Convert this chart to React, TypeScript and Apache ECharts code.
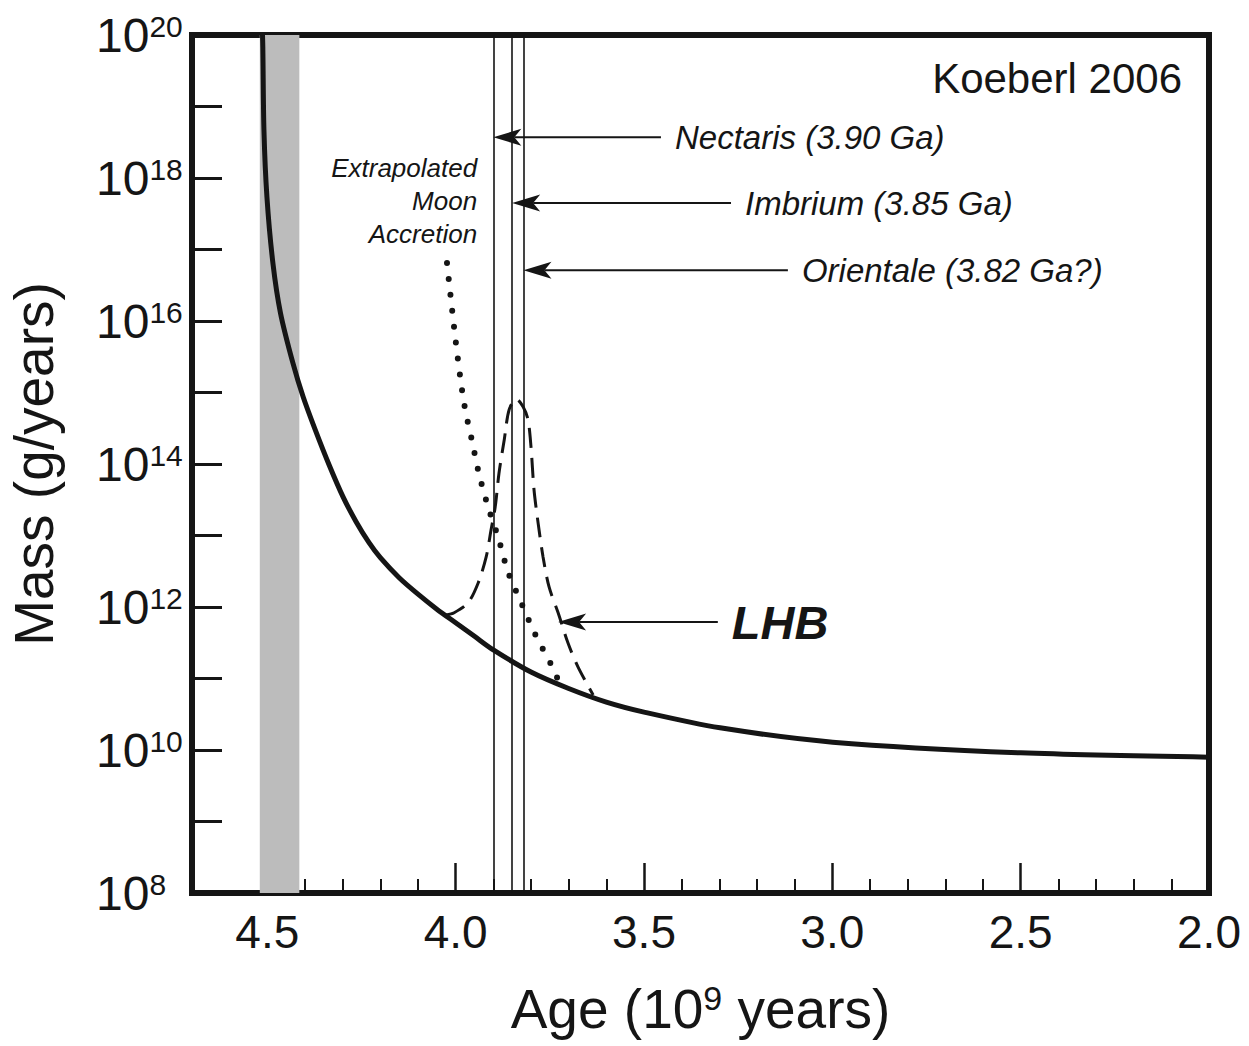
import React, { useEffect, useRef } from "react";
import * as echarts from "echarts";

// Age axis (Ga) ticks and labels
const xLabelAges = [2.0, 2.5, 3.0, 3.5, 4.0, 4.5];
const majorTickAges = [2.5, 3.0, 3.5, 4.0, 4.5];
const minorTickAges = [
  2.1, 2.2, 2.3, 2.4, 2.6, 2.7, 2.8, 2.9, 3.1, 3.2, 3.3, 3.4,
  3.6, 3.7, 3.8, 3.9, 4.1, 4.2, 4.3, 4.4,
];
// Mass axis: log10 of mass flux (g/yr); labelled every second decade
const massExponentLabels = [8, 10, 12, 14, 16, 18, 20];

// Background accretion flux (log10 g/yr)
const fluxAges = [
  4.514, 4.512, 4.509, 4.501, 4.485, 4.465, 4.432, 4.405, 4.373, 4.337, 4.299,
  4.264, 4.23, 4.2, 4.15, 4.1, 4.05, 4.0, 3.95, 3.9, 3.8, 3.7, 3.6, 3.5, 3.298,
  2.999, 2.5, 2.0,
];
const fluxLogMass = [
  20.2, 19.83, 18.67, 17.73, 16.8, 16.11, 15.41, 14.94, 14.48, 14.0, 13.54,
  13.19, 12.9, 12.69, 12.41, 12.18, 11.97, 11.78, 11.59, 11.4, 11.09, 10.86, 10.67,
  10.53, 10.31, 10.11, 9.96, 9.9,
];

// Extrapolated Moon accretion
const moonAges = [4.023, 4.004, 3.988, 3.975, 3.956, 3.938, 3.914, 3.887, 3.861, 3.826, 3.789, 3.747, 3.728];
const moonLogMass = [16.81, 15.9, 15.22, 14.77, 14.31, 13.86, 13.4, 12.97, 12.49, 12.06, 11.62, 11.2, 10.98];

// Late Heavy Bombardment spike
const lhbAges = [
  4.025, 4.004, 3.967, 3.94, 3.919, 3.906, 3.895, 3.885, 3.871, 3.858, 3.839,
  3.821, 3.808, 3.8, 3.792, 3.781, 3.768, 3.752, 3.728, 3.702, 3.675, 3.635,
];
const lhbLogMass = [
  11.89, 11.92, 12.06, 12.34, 12.7, 13.08, 13.4, 13.87, 14.34, 14.76, 14.91,
  14.8, 14.62, 14.24, 13.64, 13.17, 12.7, 12.28, 11.92, 11.5, 11.16, 10.77,
];

// Grey band: Moon formation interval
const moonFormationAges = [4.52, 4.415];

// Impact basins
const basinNames = ["Nectaris", "Imbrium", "Orientale"];
const basinAges = [3.9, 3.85, 3.82];
const basinAgeNotes = ["", "", "?"];
const basinArrowTailAges = [3.455, 3.269, 3.118];
const basinArrowLogMass = [18.57, 17.65, 16.71];

// LHB pointer
const lhbArrowTailAge = 3.304;
const lhbArrowTipAge = 3.728;
const lhbArrowLogMass = 11.79;

// Caption of the extrapolated curve (anchored at its right edge)
const moonLabelLines = ["Extrapolated", "Moon", "Accretion"];
const moonLabelAge = 3.943;
const moonLabelLogMass = 17.68;

const INK = "#151515";
const FONT = "'Liberation Sans', Arial, Helvetica, sans-serif";

const zip = (xs: number[], ys: number[]) => xs.map((x, i) => [x, ys[i]]);

const arrowRenderer =
  (labels: string[], textStyle: Record<string, any>) => (params: any, api: any) => {
    const tail = api.coord([api.value(0), api.value(2)]);
    const tip = api.coord([api.value(1), api.value(2)]);
    const headLen = 28;
    const headHalf = 8.5;
    const notch = 21;
    return {
      type: "group",
      children: [
        {
          type: "line",
          shape: { x1: tail[0], y1: tail[1], x2: tip[0] + notch, y2: tip[1] },
          style: { stroke: INK, lineWidth: 2 },
        },
        {
          type: "polygon",
          shape: {
            points: [
              [tip[0], tip[1]],
              [tip[0] + headLen, tip[1] - headHalf],
              [tip[0] + notch, tip[1]],
              [tip[0] + headLen, tip[1] + headHalf],
            ],
          },
          style: { fill: INK },
        },
        {
          type: "text",
          x: tail[0] + 14,
          y: tail[1],
          style: {
            text: labels[params.dataIndex],
            fill: INK,
            fontFamily: FONT,
            align: "left",
            verticalAlign: "middle",
            ...textStyle,
          },
        },
      ],
    };
  };

export default function App() {
  const ref = useRef<HTMLDivElement>(null);

  useEffect(() => {
    if (!ref.current) return;
    const chart = echarts.init(ref.current, null, { renderer: "svg" });

    const basinLabels = basinNames.map(
      (n, i) => `${n} (${basinAges[i].toFixed(2)} Ga${basinAgeNotes[i]})`
    );

    const xBase = {
      type: "value" as const,
      min: 2.0,
      max: 4.7,
      inverse: true,
      position: "bottom" as const,
      axisLine: { show: false },
      splitLine: { show: false },
    };

    chart.setOption({
      animation: false,
      backgroundColor: "#ffffff",
      title: {
        text: "Koeberl 2006",
        right: 62,
        top: 52,
        textStyle: { fontSize: 42, fontWeight: "normal", color: INK, fontFamily: FONT },
      },
      grid: {
        left: 192,
        right: 40,
        top: 35,
        bottom: 153,
        outerBoundsMode: "none",
        containLabel: false,
        show: true,
        borderColor: INK,
        borderWidth: 6,
        backgroundColor: "transparent",
      },
      xAxis: [
        {
          ...xBase,
          interval: 0.5,
          name: "Age (10{s|9} years)",
          nameLocation: "middle",
          nameGap: 88,
          nameTextStyle: {
            fontSize: 55,
            color: INK,
            fontFamily: FONT,
            rich: {
              s: { fontSize: 34, color: INK, fontFamily: FONT, verticalAlign: "top" },
            },
          },
          axisTick: {
            inside: true,
            length: 30,
            customValues: majorTickAges,
            lineStyle: { color: INK, width: 2.5 },
          },
          axisLabel: {
            customValues: xLabelAges,
            formatter: (v: number) => v.toFixed(1),
            margin: 16,
            fontSize: 46,
            color: INK,
            fontFamily: FONT,
          },
        },
        {
          ...xBase,
          interval: 0.1,
          axisTick: {
            inside: true,
            length: 14,
            customValues: minorTickAges,
            lineStyle: { color: INK, width: 2 },
          },
          axisLabel: { show: false },
        },
      ],
      yAxis: {
        type: "value",
        min: 8,
        max: 20,
        interval: 1,
        name: "Mass (g/years)",
        nameLocation: "middle",
        nameGap: 131,
        nameTextStyle: { fontSize: 55, color: INK, fontFamily: FONT },
        axisLine: { show: false },
        splitLine: { show: false },
        axisTick: { inside: true, length: 30, lineStyle: { color: INK, width: 3 } },
        axisLabel: {
          align: "left",
          margin: 96,
          formatter: (v: number) =>
            massExponentLabels.includes(v) ? `{b|10}{s|${v}}` : "",
          rich: {
            b: { fontSize: 48, color: INK, fontFamily: FONT },
            s: { fontSize: 30, color: INK, fontFamily: FONT, verticalAlign: "top" },
          },
        },
      },
      series: [
        {
          name: "Accretion flux",
          type: "line",
          xAxisIndex: 0,
          data: zip(fluxAges, fluxLogMass),
          smooth: 0.3,
          symbol: "none",
          lineStyle: { color: INK, width: 5 },
          z: 4,
          markArea: {
            silent: true,
            itemStyle: { color: "#bcbcbc" },
            data: [[{ xAxis: moonFormationAges[0] }, { xAxis: moonFormationAges[1] }]],
          },
          markLine: {
            silent: true,
            symbol: ["none", "none"],
            label: { show: false },
            lineStyle: { color: INK, width: 1.6, type: "solid" },
            data: basinAges.map((a) => ({ xAxis: a })),
          },
        },
        {
          name: "Extrapolated Moon Accretion",
          type: "line",
          xAxisIndex: 0,
          data: zip(moonAges, moonLogMass),
          smooth: 0.3,
          symbol: "none",
          lineStyle: { color: INK, width: 6, type: [0, 16], cap: "round" },
          z: 3,
        },
        {
          name: "LHB",
          type: "line",
          xAxisIndex: 0,
          data: zip(lhbAges, lhbLogMass),
          smooth: 0.3,
          symbol: "none",
          lineStyle: { color: INK, width: 3, type: [20, 10] },
          z: 3,
        },
        {
          name: "Basin pointers",
          type: "custom",
          xAxisIndex: 0,
          data: basinArrowTailAges.map((t, i) => [t, basinAges[i], basinArrowLogMass[i]]),
          renderItem: arrowRenderer(basinLabels, { fontSize: 33, fontStyle: "italic" }),
          z: 6,
        },
        {
          name: "LHB pointer",
          type: "custom",
          xAxisIndex: 0,
          data: [[lhbArrowTailAge, lhbArrowTipAge, lhbArrowLogMass]],
          renderItem: arrowRenderer(["LHB"], {
            fontSize: 47,
            fontStyle: "italic",
            fontWeight: "bold",
          }),
          z: 6,
        },
        {
          name: "Moon accretion caption",
          type: "custom",
          xAxisIndex: 0,
          data: [[moonLabelAge, moonLabelLogMass]],
          renderItem: (params: any, api: any) => {
            const p = api.coord([api.value(0), api.value(1)]);
            return {
              type: "text",
              x: p[0],
              y: p[1],
              style: {
                text: moonLabelLines.join("\n"),
                fill: INK,
                fontFamily: FONT,
                fontSize: 26,
                fontStyle: "italic",
                lineHeight: 33,
                align: "right",
                verticalAlign: "middle",
              },
            };
          },
          z: 6,
        },
      ],
    });

    return () => chart.dispose();
  }, []);

  return (
    <div
      ref={ref}
      style={{ position: "absolute", left: 0, top: 0, width: 1249, height: 1046 }}
    />
  );
}
